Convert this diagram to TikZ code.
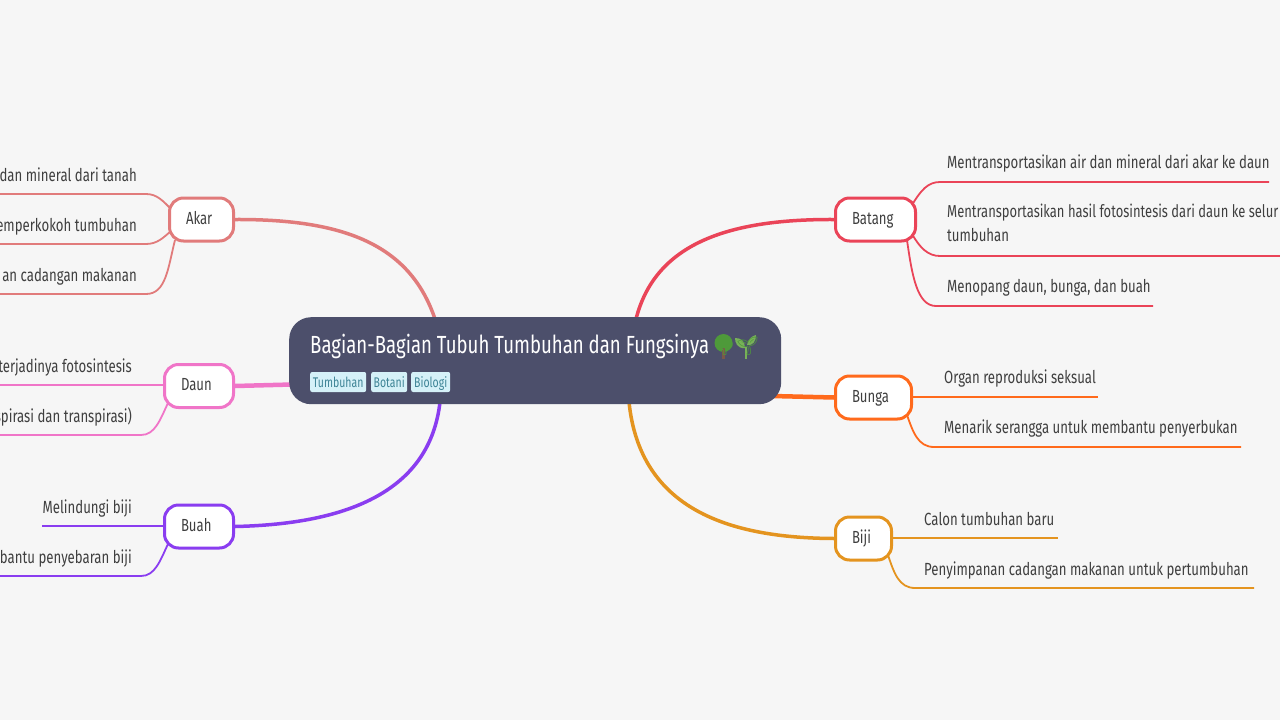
\documentclass[tikz,border=0pt]{standalone}
\usepackage{fontspec}
\setmainfont[FakeStretch=0.75]{Fira Sans}
\newfontfamily\emojifont{Noto Emoji}
\usetikzlibrary{backgrounds,calc}
\definecolor{cbg}{HTML}{F6F6F6}
\definecolor{croot}{HTML}{4C4F6B}
\definecolor{ctag}{HTML}{D5F1F8}
\definecolor{ctagt}{HTML}{3E8496}
\definecolor{ctxt}{HTML}{3F3F3F}
\definecolor{cakar}{HTML}{E17B7B}
\definecolor{cdaun}{HTML}{F075C8}
\definecolor{cbuah}{HTML}{8A3DF0}
\definecolor{cbatang}{HTML}{EA4458}
\definecolor{cbunga}{HTML}{FF6A1C}
\definecolor{cbiji}{HTML}{E4941F}
\definecolor{ctree}{HTML}{4E9A3A}
\definecolor{ctrunk}{HTML}{7A5A48}
\definecolor{csprout}{HTML}{78B159}
\tikzset{
  x=1pt,y=-1pt,
  branch/.style 2 args={draw=#1,line width=3pt,fill=white,rounded corners=14pt,text=ctxt,font=\fontsize{17.5}{18}\selectfont,inner xsep=16.5pt,inner ysep=0pt,text width=#2,align=left,text height=12.5pt,text depth=3.5pt,minimum height=43pt,anchor=west},
  leaf/.style={text=ctxt,font=\fontsize{17.6}{24}\selectfont,inner sep=0pt,align=left},
  tagbox/.style={fill=ctag,text=ctagt,rounded corners=2pt,font=\fontsize{14}{14}\selectfont,inner sep=0pt,text height=11pt,text depth=1pt,minimum height=20pt,anchor=west},
  main/.style={draw=#1,line width=3.5pt,line cap=round},
  sub/.style={draw=#1,line width=1.8pt},
}
\begin{document}
\begin{tikzpicture}
\useasboundingbox (0,0) rectangle (1280,720);
\clip (0,0) rectangle (1280,720);
% root
\node[fill=croot,rounded corners=22pt,minimum width=492pt,minimum height=87pt,inner sep=0pt,anchor=north west] (root) at (289,317) {};
% emoji colour underlay
\fill[ctree] (723.5,343) circle (9);
\fill[ctrunk] (722,348) rectangle (725,359);
\fill[csprout] (745,347) -- (747,347) -- (747,359) -- (745,359) -- cycle;
\fill[csprout] (745,348) .. controls (737,349) and (735,342) .. (735,338) .. controls (741,338) and (745,341) .. (745,348) -- cycle;
\fill[csprout] (747,345) .. controls (748,339) and (752,336) .. (756,335) .. controls (756,341) and (753,346) .. (747,345) -- cycle;
\node[text=white,font=\fontsize{24.8}{26}\selectfont,inner sep=0pt,anchor=base west] (title) at (310,353) {Bagian-Bagian Tubuh Tumbuhan dan Fungsinya};
\node[text=ctree,font=\emojifont\fontsize{18}{24}\selectfont,inner sep=0pt,anchor=west] (emo) at (713,346) {🌳🌱};
\node[tagbox,minimum width=56pt] (t1) at (310,382) {Tumbuhan};
\node[tagbox,minimum width=36pt] (t2) at (371,382) {Botani};
\node[tagbox,minimum width=39pt] (t3) at (411,382) {Biologi};
% branch nodes
\node[branch={cakar}{31pt}] (akar) at (168,219.5) {Akar};
\node[branch={cdaun}{36pt}] (daun) at (163,386) {Daun};
\node[branch={cbuah}{36pt}] (buah) at (163,526.5) {Buah};
\node[branch={cbatang}{47pt}] (batang) at (834,219.5) {Batang};
\node[branch={cbunga}{43pt}] (bunga) at (834,397.5) {Bunga};
\node[branch={cbiji}{23pt}] (biji) at (834,538.5) {Biji};
% leaves left
\node[leaf,anchor=base east] (a1) at (137,181) {dan mineral dari tanah};
\node[leaf,anchor=base east] (a2) at (137,231) {emperkokoh tumbuhan};
\node[leaf,anchor=base east] (a3) at (137,281) {an cadangan makanan};
\node[leaf,anchor=base east] (d1) at (132,372) {terjadinya fotosintesis};
\node[leaf,anchor=base east] (d2) at (132,422) {spirasi dan transpirasi)};
\node[leaf,anchor=base east] (u1) at (132,513) {Melindungi biji};
\node[leaf,anchor=base east] (u2) at (132,563) {mbantu penyebaran biji};
% leaves right
\node[leaf,anchor=base west] (b1) at (947,168) {Mentransportasikan air dan mineral dari akar ke daun};
\node[leaf,anchor=base west,font=\fontsize{17.3}{24}\selectfont] (b2) at (947,217.5) {Mentransportasikan hasil fotosintesis dari daun ke selur};
\node[leaf,anchor=base west] (b2b) at (947,241.5) {tumbuhan};
\node[leaf,anchor=base west] (b3) at (947,292.5) {Menopang daun, bunga, dan buah};
\node[leaf,anchor=base west] (n1) at (944,383.5) {Organ reproduksi seksual};
\node[leaf,anchor=base west] (n2) at (944,433.5) {Menarik serangga untuk membantu penyerbukan};
\node[leaf,anchor=base west] (j1) at (924,525) {Calon tumbuhan baru};
\node[leaf,anchor=base west] (j2) at (924,575) {Penyimpanan cadangan makanan untuk pertumbuhan};
% free ends
\coordinate (ea1) at (0,194); \coordinate (ka1) at (146,194);
\coordinate (ea2) at (0,244); \coordinate (ka2) at (146,244);
\coordinate (ea3) at (0,294); \coordinate (ka3) at (146,294);
\coordinate (ed1) at (0,385);
\coordinate (ed2) at (0,435); \coordinate (kd2) at (141,435);
\coordinate (eu1) at (42,526);
\coordinate (eu2) at (0,576); \coordinate (ku2) at (141,576);
\coordinate (eb1) at (1269,182); \coordinate (kb1) at (940,182);
\coordinate (eb2) at (1280,256); \coordinate (kb2) at (940,256);
\coordinate (eb3) at (1153,306); \coordinate (kb3) at (936,306);
\coordinate (en1) at (1098,397);
\coordinate (en2) at (1241,447); \coordinate (kn2) at (934,447);
\coordinate (ej1) at (1058,538);
\coordinate (ej2) at (1254,588); \coordinate (kj2) at (915,588);
\coordinate (ra) at (435,319); \coordinate (rb) at (636,319);
\coordinate (rn) at (772,396); \coordinate (rj) at (629,402);
\coordinate (ru) at (440,402); \coordinate (rd) at (292,384.5);
\begin{scope}[on background layer]
\fill[cbg] (0,0) rectangle (1280,720);
\clip (0,0) rectangle (1280,720);
% main branches
\draw[main=cakar] (akar.east) .. controls (345,219) and (410,245) .. (ra);
\draw[main=cbatang] (batang.west) .. controls (725,219) and (655,245) .. (rb);
\draw[main=cdaun,line width=4.5pt] (daun.east) -- (rd);
\draw[main=cbuah] (buah.east) .. controls (350,524) and (430,490) .. (ru);
\draw[main=cbunga,line width=4.5pt] (bunga.west) -- (rn);
\draw[main=cbiji] (biji.west) .. controls (730,538) and (640,510) .. (rj);
% sub branches
\draw[sub=cakar] ($(akar.center)+(-30.5,-10.5)$) .. controls (163,201) and (157,194) .. (ka1) -- (ea1);
\draw[sub=cakar] ($(akar.center)+(-30.5,11.5)$) .. controls (163,238) and (157,244) .. (ka2) -- (ea2);
\draw[sub=cakar] ($(akar.center)+(-26.5,20.5)$) .. controls (168,268) and (166,294) .. (ka3) -- (ea3);
\draw[sub=cdaun] (daun.west |- ed1) -- (ed1);
\draw[sub=cdaun] ($(daun.center)+(-31,17)$) .. controls (160,420) and (155,435) .. (kd2) -- (ed2);
\draw[sub=cbuah] (buah.west |- eu1) -- (eu1);
\draw[sub=cbuah] ($(buah.center)+(-31,17.5)$) .. controls (160,561) and (155,576) .. (ku2) -- (eu2);
\draw[sub=cbatang] ($(batang.center)+(36.5,-14.5)$) .. controls (921,190) and (928,182) .. (kb1) -- (eb1);
\draw[sub=cbatang] ($(batang.center)+(36.5,14.5)$) .. controls (920,248) and (928,256) .. (kb2) -- (eb2);
\draw[sub=cbatang] ($(batang.center)+(31.5,20.5)$) .. controls (912,275) and (917,306) .. (kb3) -- (eb3);
\draw[sub=cbunga] (bunga.east |- en1) -- (en1);
\draw[sub=cbunga] ($(bunga.center)+(33.5,17.5)$) .. controls (913,432) and (918,447) .. (kn2) -- (en2);
\draw[sub=cbiji] (biji.east |- ej1) -- (ej1);
\draw[sub=cbiji] ($(biji.center)+(24.5,16.5)$) .. controls (894,573) and (899,588) .. (kj2) -- (ej2);
\end{scope}
\end{tikzpicture}
\end{document}
